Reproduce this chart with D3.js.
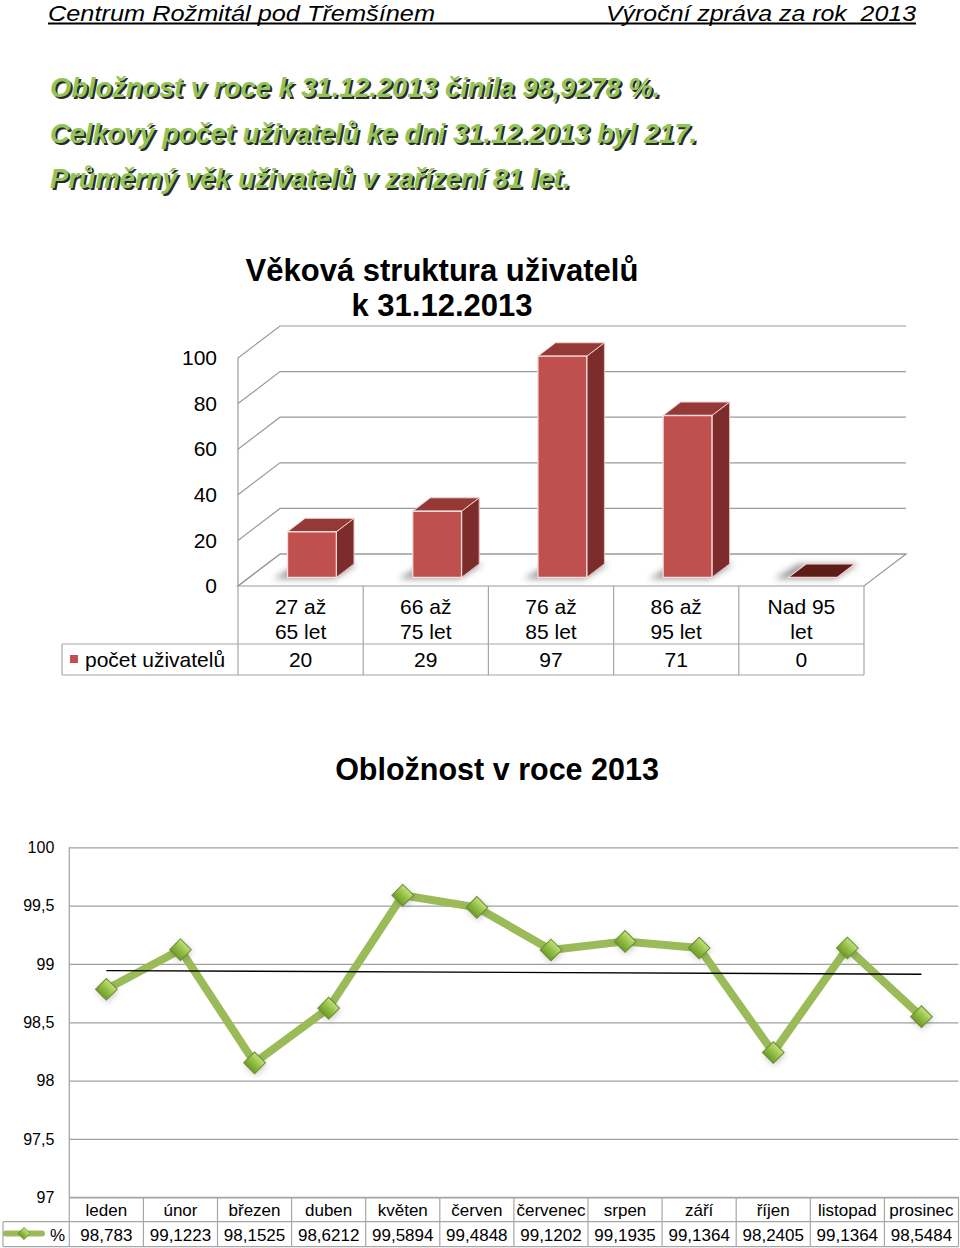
<!DOCTYPE html>
<html>
<head>
<meta charset="utf-8">
<script src="https://cdn.jsdelivr.net/npm/d3@7/dist/d3.min.js"></script>
<style>
  body { margin: 0; background: #fff; }
  svg { display: block; font-family: "Liberation Sans", Arial, sans-serif; }
</style>
</head>
<body>
<div id="page"></div>
<script>
//- Data
const headerLeft = "Centrum Rožmitál pod Třemšínem";
const headerRight = "Výroční zpráva za rok\u00a0 2013";
const summaryLines = [
    "Obložnost v roce k 31.12.2013 činila 98,9278 %.",
    "Celkový počet uživatelů ke dni 31.12.2013 byl 217.",
    "Průměrný věk uživatelů v zařízení 81 let."
];

const ageTitle = ["Věková struktura uživatelů", "k 31.12.2013"];
const ageCategories = ["27 až|65 let", "66 až|75 let", "76 až|85 let", "86 až|95 let", "Nad 95|let"];
const ageCounts = [20, 29, 97, 71, 0];
const ageTicks = [0, 20, 40, 60, 80, 100];
const ageSeriesName = "počet uživatelů";

const occTitle = "Obložnost v roce 2013";
const months = ["leden", "únor", "březen", "duben", "květen", "červen",
                "červenec", "srpen", "září", "říjen", "listopad", "prosinec"];
const occupancy = [98.783, 99.1223, 98.1525, 98.6212, 99.5894, 99.4848,
                   99.1202, 99.1935, 99.1364, 98.2405, 99.1364, 98.5484];
const occTicks = [97, 97.5, 98, 98.5, 99, 99.5, 100];
const occSeriesName = "%";

const commaNum = v => String(v).replace(".", ",");

//- SVG
const svg = d3.select("#page").append("svg")
    .attr("width", 960)
    .attr("height", 1248);

const defs = svg.append("defs");

defs.append("filter").attr("id", "soft")
    .attr("x", "-50%").attr("y", "-50%").attr("width", "200%").attr("height", "200%")
    .append("feGaussianBlur").attr("stdDeviation", 3);

const mg = defs.append("linearGradient").attr("id", "markerFill")
    .attr("x1", 0).attr("y1", 0).attr("x2", 0).attr("y2", 1);
mg.append("stop").attr("offset", "0%").attr("stop-color", "#c3e07f");
mg.append("stop").attr("offset", "50%").attr("stop-color", "#93bf45");
mg.append("stop").attr("offset", "100%").attr("stop-color", "#6f9a2c");


//-- Header
svg.append("text")
    .attr("x", 48).attr("y", 20.5)
    .attr("font-size", 21.5).attr("font-style", "italic")
    .attr("textLength", 387).attr("lengthAdjust", "spacingAndGlyphs")
    .text(headerLeft);

svg.append("text")
    .attr("x", 916).attr("y", 20.5)
    .attr("text-anchor", "end")
    .attr("font-size", 21.5).attr("font-style", "italic")
    .attr("textLength", 310).attr("lengthAdjust", "spacingAndGlyphs")
    .text(headerRight);

svg.append("line")
    .attr("x1", 48).attr("x2", 916).attr("y1", 23.5).attr("y2", 23.5)
    .attr("stroke", "#000").attr("stroke-width", 2);


//-- Green summary text with shadow
const summaryWidths = [610, 647, 520];
const summaryG = svg.append("g")
    .attr("font-size", 28).attr("font-weight", "bold").attr("font-style", "italic");

summaryLines.forEach((line, i) => {
    const y = 97 + i * 45.5;
    summaryG.append("text")
        .attr("x", 52).attr("y", y + 2)
        .attr("fill", "#2a2a2a")
        .attr("textLength", summaryWidths[i]).attr("lengthAdjust", "spacingAndGlyphs")
        .text(line);
    summaryG.append("text")
        .attr("x", 50).attr("y", y)
        .attr("fill", "#93c45a")
        .attr("textLength", summaryWidths[i]).attr("lengthAdjust", "spacingAndGlyphs")
        .text(line);
});


//-- Chart 1: 3D column chart
const x1 = d3.scaleBand().domain(ageCategories).range([238, 864]);
const y1 = d3.scaleLinear().domain([0, 100]).range([586, 358]);
const DEPTH = { dx: 42, dy: -32 };
const proj = (x, v, t) => [x + DEPTH.dx * t, y1(v) + DEPTH.dy * t];
const poly = pts => pts.map(p => p.join(",")).join(" ");

const c1 = svg.append("g");

c1.selectAll(".title1")
    .data(ageTitle)
    .enter()
    .append("text")
    .attr("x", 442)
    .attr("y", (d, i) => 281 + i * 35)
    .attr("text-anchor", "middle")
    .attr("font-size", 31).attr("font-weight", "bold")
    .text(d => d);

const xL = x1.range()[0], xR = x1.range()[1];
const wallStroke = "#9a9a9a";

// floor
c1.append("polygon")
    .attr("points", poly([proj(xL, 0, 0), proj(xR, 0, 0), proj(xR, 0, 1), proj(xL, 0, 1)]))
    .attr("fill", "#fff").attr("stroke", wallStroke).attr("stroke-width", 1.2);

// left wall front edge
c1.append("line")
    .attr("x1", xL).attr("x2", xL)
    .attr("y1", y1(0)).attr("y2", y1(100))
    .attr("stroke", wallStroke).attr("stroke-width", 1.2);

// gridlines: side diagonal + back wall horizontal
const grid1 = c1.append("g").attr("fill", "none").attr("stroke", wallStroke).attr("stroke-width", 1.2);
grid1.selectAll("path")
    .data(ageTicks)
    .enter()
    .append("path")
    .attr("d", v => {
        const a = proj(xL, v, 0), b = proj(xL, v, 1), c = proj(xR, v, 1);
        return `M${a}L${b}L${c}`;
    });

// axis labels
const yAxis1 = d3.axisLeft(y1).tickValues(ageTicks).tickSize(0).tickPadding(21);
const ax1 = c1.append("g")
    .attr("transform", `translate(${xL},0)`)
    .call(yAxis1);
ax1.select(".domain").remove();
ax1.selectAll("text")
    .attr("font-family", "Liberation Sans, Arial, sans-serif")
    .attr("font-size", 21).attr("fill", "#000");

// bars
const barW = x1.bandwidth() * 0.39;
const t0 = 0.27, t1 = 0.69;

const bars = c1.selectAll(".bar")
    .data(ageCounts.map((v, i) => ({ cat: ageCategories[i], v: v })))
    .enter()
    .append("g")
    .attr("class", "bar");

bars.each(function(d) {
    const g = d3.select(this);
    const x0 = x1(d.cat) + (x1.bandwidth() - barW) / 2;
    const x2 = x0 + barW;

    // soft shadow on the floor
    g.append("polygon")
        .attr("points", poly([proj(x0 - 12, 0, t0 - 0.05), proj(x2, 0, t0 - 0.05), proj(x2 + 4, 0, t1), proj(x0 - 8, 0, t1)]))
        .attr("fill", "#6a6a6a").attr("opacity", 0.65)
        .attr("filter", "url(#soft)");

    if (d.v <= 0) {
        g.append("polygon")
            .attr("points", poly([proj(x0, 0, t0), proj(x2, 0, t0), proj(x2, 0, t1), proj(x0, 0, t1)]))
            .attr("fill", "#5e1c19").attr("stroke", "#f4d3d2").attr("stroke-width", 1.2);
        return;
    }

    g.append("polygon")
        .attr("points", poly([proj(x2, 0, t0), proj(x2, d.v, t0), proj(x2, d.v, t1), proj(x2, 0, t1)]))
        .attr("fill", "#7c2d2b").attr("stroke", "#e8bdbc").attr("stroke-width", 1);

    g.append("polygon")
        .attr("points", poly([proj(x0, d.v, t0), proj(x2, d.v, t0), proj(x2, d.v, t1), proj(x0, d.v, t1)]))
        .attr("fill", "#943935").attr("stroke", "#f0cfce").attr("stroke-width", 1);

    g.append("polygon")
        .attr("points", poly([proj(x0, 0, t0), proj(x2, 0, t0), proj(x2, d.v, t0), proj(x0, d.v, t0)]))
        .attr("fill", "#c0504d").attr("stroke", "#f6dcdb").attr("stroke-width", 1.3);
});

// data table under chart 1
const tbl1 = c1.append("g").attr("stroke", "#a6a6a6").attr("stroke-width", 1.2);
const rowTop1 = 586, rowMid1 = 644, rowBot1 = 675;
const edges1 = ageCategories.map(c => x1(c)).concat([xR]);

tbl1.selectAll(".v")
    .data(edges1)
    .enter()
    .append("line")
    .attr("x1", d => d).attr("x2", d => d)
    .attr("y1", rowTop1).attr("y2", rowBot1);
tbl1.append("line").attr("x1", 62).attr("x2", 62).attr("y1", rowMid1).attr("y2", rowBot1);
tbl1.append("line").attr("x1", 62).attr("x2", xR).attr("y1", rowMid1).attr("y2", rowMid1);
tbl1.append("line").attr("x1", 62).attr("x2", xR).attr("y1", rowBot1).attr("y2", rowBot1);

const catText = c1.append("g").attr("font-size", 21).attr("text-anchor", "middle");
ageCategories.forEach(c => {
    c.split("|").forEach((line, j) => {
        catText.append("text")
            .attr("x", x1(c) + x1.bandwidth() / 2)
            .attr("y", 614 + j * 25)
            .text(line);
    });
});

catText.selectAll(".val")
    .data(ageCounts)
    .enter()
    .append("text")
    .attr("x", (d, i) => x1(ageCategories[i]) + x1.bandwidth() / 2)
    .attr("y", 667)
    .text(d => d);

c1.append("rect")
    .attr("x", 70).attr("y", 655).attr("width", 8).attr("height", 8)
    .attr("fill", "#c0504d");
c1.append("text")
    .attr("x", 85).attr("y", 667)
    .attr("font-size", 21)
    .text(ageSeriesName);


//-- Chart 2: line chart
const x2 = d3.scaleBand().domain(months).range([69.3, 958.5]);
const y2 = d3.scaleLinear().domain([97, 100]).range([1197.3, 847.3]);
const cx = m => x2(m) + x2.bandwidth() / 2;

const c2 = svg.append("g");

c2.append("text")
    .attr("x", 497).attr("y", 780)
    .attr("text-anchor", "middle")
    .attr("font-size", 30.5).attr("font-weight", "bold")
    .text(occTitle);

// gridlines
const gridAxis = d3.axisLeft(y2).tickValues(occTicks).tickSize(-(x2.range()[1] - x2.range()[0])).tickFormat("");
const g2 = c2.append("g")
    .attr("transform", `translate(${x2.range()[0]},0)`)
    .call(gridAxis);
g2.select(".domain").remove();
g2.selectAll("line").attr("stroke", "#a0a0a0").attr("stroke-width", 1.2);

c2.append("line")
    .attr("x1", x2.range()[0]).attr("x2", x2.range()[0])
    .attr("y1", y2(100)).attr("y2", y2(97))
    .attr("stroke", "#a0a0a0").attr("stroke-width", 1.2);

// tick labels
const yAxis2 = d3.axisLeft(y2).tickValues(occTicks).tickSize(0).tickPadding(15)
    .tickFormat(d => commaNum(d));
const ax2 = c2.append("g")
    .attr("transform", `translate(${x2.range()[0]},0)`)
    .call(yAxis2);
ax2.select(".domain").remove();
ax2.selectAll("text")
    .attr("font-family", "Liberation Sans, Arial, sans-serif")
    .attr("font-size", 16).attr("fill", "#000");

// series line
const pts = months.map((m, i) => ({ m: m, v: occupancy[i] }));
const line = d3.line().x(d => cx(d.m)).y(d => y2(d.v));

c2.append("path")
    .datum(pts)
    .attr("d", line)
    .attr("fill", "none")
    .attr("stroke", "#9bbb59")
    .attr("stroke-width", 8)
    .attr("stroke-linejoin", "round");

// linear trendline (least squares over the monthly values)
const n = occupancy.length;
const meanX = (n - 1) / 2;
const meanY = d3.mean(occupancy);
const slope = d3.sum(occupancy, (v, i) => (i - meanX) * (v - meanY)) /
              d3.sum(occupancy, (v, i) => (i - meanX) * (i - meanX));
const trendAt = i => meanY + slope * (i - meanX);

c2.append("line")
    .attr("x1", cx(months[0])).attr("y1", y2(trendAt(0)))
    .attr("x2", cx(months[n - 1])).attr("y2", y2(trendAt(n - 1)))
    .attr("stroke", "#000").attr("stroke-width", 1.4);

// markers
const diamond = d3.symbol().type(d3.symbolSquare).size(235);
c2.selectAll(".mk-sh")
    .data(pts)
    .enter()
    .append("path")
    .attr("d", diamond)
    .attr("transform", d => `translate(${cx(d.m) + 1},${y2(d.v) + 2}) rotate(45)`)
    .attr("fill", "#555").attr("opacity", 0.35)
    .attr("filter", "url(#soft)");

c2.selectAll(".mk")
    .data(pts)
    .enter()
    .append("path")
    .attr("d", diamond)
    .attr("transform", d => `translate(${cx(d.m)},${y2(d.v)}) rotate(45)`)
    .attr("fill", "url(#markerFill)")
    .attr("stroke", "#6b8f2c").attr("stroke-width", 1);

// data table under chart 2
const rowTop2 = 1197.3, rowMid2 = 1221.7, rowBot2 = 1246.7;
const tbl2 = c2.append("g").attr("stroke", "#a6a6a6").attr("stroke-width", 1.2);
const edges2 = months.map(m => x2(m)).concat([x2.range()[1]]);

tbl2.selectAll(".v")
    .data(edges2)
    .enter()
    .append("line")
    .attr("x1", d => d).attr("x2", d => d)
    .attr("y1", rowTop2).attr("y2", rowBot2);
tbl2.append("line").attr("x1", 3).attr("x2", 3).attr("y1", rowMid2).attr("y2", rowBot2);
tbl2.append("line").attr("x1", x2.range()[0]).attr("x2", x2.range()[1]).attr("y1", rowTop2).attr("y2", rowTop2);
tbl2.append("line").attr("x1", 3).attr("x2", x2.range()[1]).attr("y1", rowMid2).attr("y2", rowMid2);
tbl2.append("line").attr("x1", 3).attr("x2", x2.range()[1]).attr("y1", rowBot2).attr("y2", rowBot2);

const t2 = c2.append("g").attr("font-size", 17).attr("text-anchor", "middle");
t2.selectAll(".mn")
    .data(months)
    .enter()
    .append("text")
    .attr("x", d => cx(d))
    .attr("y", 1215.5)
    .text(d => d);

t2.selectAll(".vl")
    .data(pts)
    .enter()
    .append("text")
    .attr("x", d => cx(d.m))
    .attr("y", 1240.5)
    .text(d => commaNum(d.v));

// legend key
c2.append("line")
    .attr("x1", 6).attr("x2", 42).attr("y1", 1233.5).attr("y2", 1233.5)
    .attr("stroke", "#9bbb59").attr("stroke-width", 6).attr("stroke-linecap", "round");
c2.append("path")
    .attr("d", d3.symbol().type(d3.symbolSquare).size(75))
    .attr("transform", "translate(24,1233.5) rotate(45)")
    .attr("fill", "url(#markerFill)").attr("stroke", "#6b8f2c").attr("stroke-width", 0.8);
c2.append("text")
    .attr("x", 50).attr("y", 1240.5)
    .attr("font-size", 17)
    .text(occSeriesName);
</script>
</body>
</html>
